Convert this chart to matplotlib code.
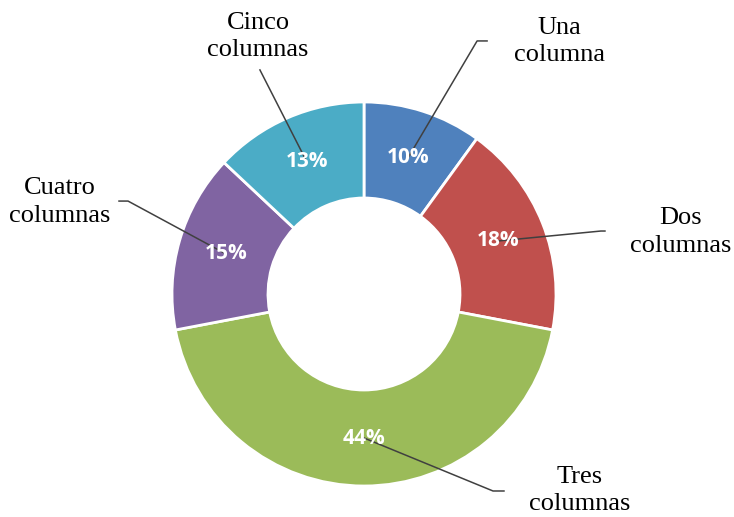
import matplotlib.pyplot as plt
import numpy as np

labels = ["Una\ncolumna", "Dos\ncolumnas", "Tres\ncolumnas", "Cuatro\ncolumnas", "Cinco\ncolumnas"]
values = [10, 18, 44, 15, 13]
colors = ["#4F81BD", "#C0504D", "#9BBB59", "#8064A2", "#4BACC6"]

# outside label placement (data units, radius = 1) and leader-line elbows
label_pos = [(1.02, 1.313), (1.651, 0.323), (1.125, -1.022), (-1.583, 0.479), (-0.552, 1.339)]
elbows = [
    [(0.589, 1.318), (0.641, 1.318)],
    [(1.234, 0.328), (1.255, 0.328)],
    [(0.672, -1.026), (0.729, -1.026)],
    [(-1.229, 0.484), (-1.276, 0.484)],
    [(-0.542, 1.167)],
]

W, H, DPI = 734, 517, 100
cx, cy, R = 364, 294, 192

fig = plt.figure(figsize=(W / DPI, H / DPI), dpi=DPI)
ax = fig.add_axes([0, 0, 1, 1])

wedges, _ = ax.pie(values, colors=colors, startangle=90, counterclock=False,
                   radius=1, wedgeprops=dict(width=0.5, edgecolor="white", linewidth=2))

ax.set_xlim(-cx / R, (W - cx) / R)
ax.set_ylim((cy - H) / R, cy / R)
ax.set_aspect("auto")
ax.axis("off")

pct_r = 0.75
for w, v, lab, lp, el in zip(wedges, values, labels, label_pos, elbows):
    ang = np.deg2rad((w.theta1 + w.theta2) / 2)
    px, py = pct_r * np.cos(ang), pct_r * np.sin(ang)
    pts = [(px, py)] + el
    xs, ys = zip(*pts)
    ax.plot(xs, ys, color="#404040", lw=1.1, zorder=3)
    ax.text(px, py, f"{v}%", ha="center", va="center", color="white",
            fontsize=15, fontweight="bold", family="Open Sans", zorder=4)
    ax.text(lp[0], lp[1], lab, ha="center", va="center", fontsize=19,
            family="Liberation Serif", linespacing=1.3, color="black")

fig.savefig("out.png", dpi=DPI)
